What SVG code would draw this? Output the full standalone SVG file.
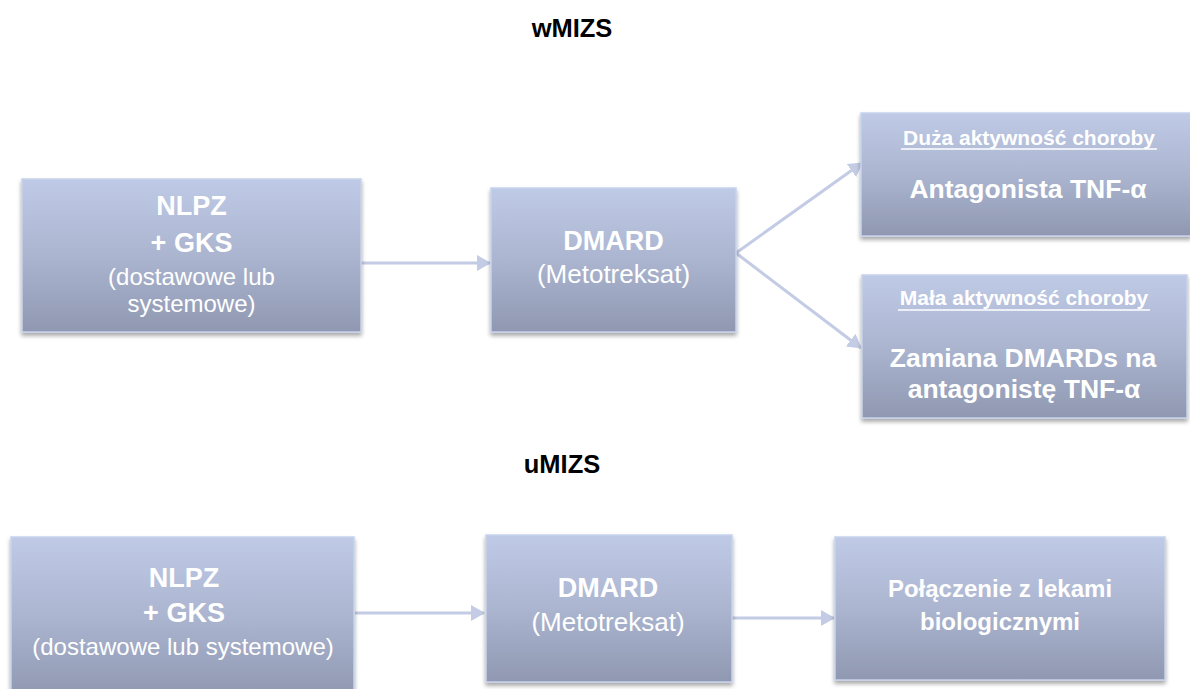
<svg xmlns="http://www.w3.org/2000/svg" width="1190" height="689" viewBox="0 0 1190 689">
  <defs>
    <linearGradient id="boxFill" x1="0" y1="0" x2="0" y2="1">
      <stop offset="0" stop-color="#bfcae6"/>
      <stop offset="0.5" stop-color="#abb5d0"/>
      <stop offset="1" stop-color="#9098b1"/>
    </linearGradient>
    <filter id="shadow" x="-10%" y="-10%" width="120%" height="130%">
      <feDropShadow dx="0" dy="3" stdDeviation="2" flood-color="#000" flood-opacity="0.35"/>
    </filter>
    <marker id="arrow" viewBox="0 0 14 16" refX="13" refY="8" markerWidth="14" markerHeight="16" markerUnits="userSpaceOnUse" orient="auto">
      <path d="M0,0 L14,8 L0,16 Z" fill="#c3cbe5"/>
    </marker>
  </defs>
  <style>
    .box { fill: url(#boxFill); stroke: #c8d2ec; stroke-width: 1.5; filter: url(#shadow); }
    .t { font-family: "Liberation Sans", Arial, sans-serif; fill: #ffffff; text-anchor: middle; }
    .b { font-weight: bold; }
    .title { font-family: "Liberation Sans", Arial, sans-serif; font-weight: bold; font-size: 25.5px; fill: #000; text-anchor: middle; }
    .conn { stroke: #c3cbe5; stroke-width: 3; fill: none; marker-end: url(#arrow); }
    .ul { stroke: #ffffff; stroke-width: 1.5; }
  </style>

  <rect width="1190" height="689" fill="#ffffff"/>

  <!-- section headings -->
  <text class="title" x="572" y="37">wMIZS</text>
  <text class="title" x="562" y="473">uMIZS</text>

  <!-- connectors -->
  <g id="connectors">
    <line class="conn" x1="361" y1="263" x2="490" y2="263"/>
    <line class="conn" x1="736" y1="253" x2="862" y2="163"/>
    <line class="conn" x1="736" y1="253" x2="861" y2="348"/>
    <line class="conn" x1="355" y1="613" x2="484" y2="613"/>
    <line class="conn" x1="732" y1="618" x2="834" y2="618"/>
  </g>

  <!-- upper flow -->
  <g id="w-nlpz">
    <rect class="box" x="22" y="179" width="339" height="153"/>
    <text class="t b" x="191.5" y="215" font-size="27">NLPZ</text>
    <text class="t b" x="191.5" y="252" font-size="27">+ GKS</text>
    <text class="t" x="191.5" y="285" font-size="24">(dostawowe lub</text>
    <text class="t" x="191.5" y="312" font-size="24">systemowe)</text>
  </g>

  <g id="w-dmard">
    <rect class="box" x="491" y="188" width="245" height="144"/>
    <text class="t b" x="613.5" y="250" font-size="27">DMARD</text>
    <text class="t" x="613.5" y="283" font-size="26">(Metotreksat)</text>
  </g>

  <g id="w-high">
    <rect class="box" x="861" y="113" width="330" height="123"/>
    <text class="t b" x="1029" y="145" font-size="21">Duża aktywność choroby</text>
    <line class="ul" x1="901" y1="149" x2="1157" y2="149"/>
    <text class="t b" x="1028" y="198" font-size="26.5">Antagonista TNF-α</text>
  </g>

  <g id="w-low">
    <rect class="box" x="862" y="275" width="325" height="143"/>
    <text class="t b" x="1024" y="305" font-size="21">Mała aktywność choroby</text>
    <line class="ul" x1="898" y1="310" x2="1150" y2="310"/>
    <text class="t b" x="1023" y="367" font-size="26.5">Zamiana DMARDs na</text>
    <text class="t b" x="1024" y="398" font-size="26.5">antagonistę TNF-α</text>
  </g>

  <!-- lower flow -->
  <g id="u-nlpz">
    <rect class="box" x="11" y="537" width="343" height="160"/>
    <text class="t b" x="184" y="587" font-size="27">NLPZ</text>
    <text class="t b" x="184" y="622" font-size="27">+ GKS</text>
    <text class="t" x="183" y="655" font-size="24">(dostawowe lub systemowe)</text>
  </g>

  <g id="u-dmard">
    <rect class="box" x="486" y="535" width="246" height="147"/>
    <text class="t b" x="608" y="597" font-size="27">DMARD</text>
    <text class="t" x="608" y="631" font-size="26">(Metotreksat)</text>
  </g>

  <g id="u-bio">
    <rect class="box" x="835" y="537" width="330" height="143"/>
    <text class="t b" x="1000" y="597" font-size="24">Połączenie z lekami</text>
    <text class="t b" x="1000" y="630" font-size="24">biologicznymi</text>
  </g>
</svg>
